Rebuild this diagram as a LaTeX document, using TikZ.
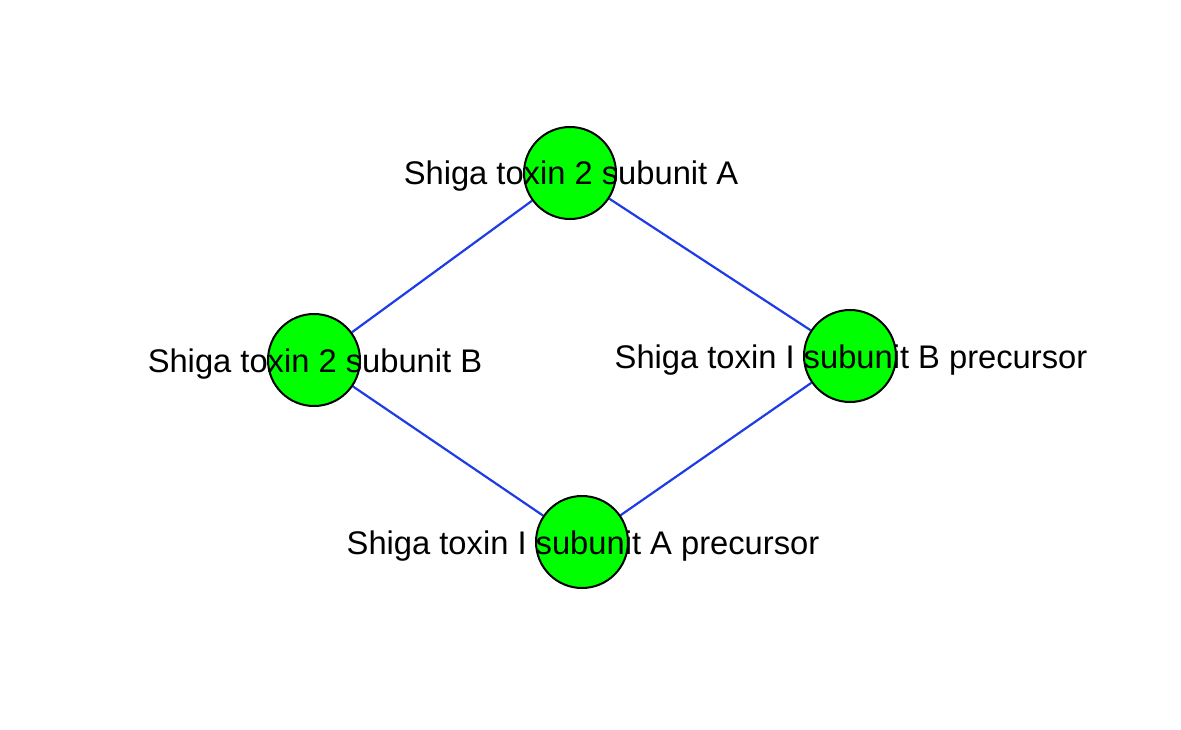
\documentclass[tikz,border=0pt]{standalone}
\usepackage{fontspec}
\setmainfont{Liberation Sans}
\usetikzlibrary{backgrounds}
\definecolor{edgeblue}{RGB}{30,60,230}
\definecolor{nodegreen}{RGB}{0,255,0}
\begin{document}
\begin{tikzpicture}[x=1pt,y=-1pt,
  vert/.style={circle,draw=black,line width=2pt,fill=nodegreen,minimum size=92pt,inner sep=0pt},
  lab/.style={anchor=base,inner sep=0pt,font=\fontsize{32.7}{36}\selectfont},
  link/.style={draw=edgeblue,line width=2.2pt}]
\useasboundingbox (0,0) rectangle (1181,730);
\node[vert] (a) at (570,173) {};
\node[vert] (b) at (314,360) {};
\node[vert] (c) at (850,356) {};
\node[vert] (d) at (582,542) {};
\begin{scope}[on background layer]
\path[link] (a) -- (b);
\path[link] (a) -- (c);
\path[link] (b) -- (d);
\path[link] (c) -- (d);
\end{scope}
\node[lab] (la) at (571,185) {Shiga toxin 2 subunit A};
\node[lab] (lb) at (315,372) {Shiga toxin 2 subunit B};
\node[lab] (lc) at (851,368) {Shiga toxin I subunit B precursor};
\node[lab] (ld) at (583,554) {Shiga toxin I subunit A precursor};
\end{tikzpicture}
\end{document}
